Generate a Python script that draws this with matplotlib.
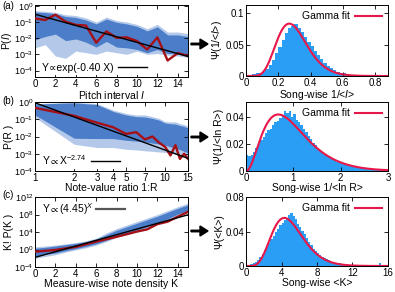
import math
import numpy as np
import matplotlib
matplotlib.use("Agg")
import matplotlib.pyplot as plt
from matplotlib.ticker import FuncFormatter, NullLocator

plt.rcParams['font.family'] = ['Liberation Sans', 'DejaVu Sans']
plt.rcParams['font.size'] = 7
plt.rcParams['mathtext.fontset'] = 'custom'
plt.rcParams['mathtext.rm'] = 'Liberation Sans'
plt.rcParams['mathtext.it'] = 'Liberation Sans:italic'
plt.rcParams['mathtext.fallback'] = 'stixsans'

# ---- panel (a): pitch interval ----
pitch_x = list(range(16))
pitch_outer_hi = [-0.30, -0.34, -0.40, -0.55, -0.60, -0.75, -1.00, -0.70, -0.91, -1.00, -1.15, -1.41, -1.15, -1.62, -1.62, -1.72]
pitch_outer_lo = [-2.60, -2.40, -3.10, -3.25, -2.80, -2.90, -3.00, -2.80, -2.90, -3.00, -2.80, -3.00, -2.95, -3.05, -3.10, -3.20]
pitch_core_hi = [-0.38, -0.42, -0.48, -0.66, -0.72, -0.88, -1.12, -0.82, -1.02, -1.12, -1.27, -1.55, -1.30, -1.80, -1.80, -1.90]
pitch_core_lo = [-2.10, -1.90, -1.75, -2.15, -2.05, -2.25, -2.55, -2.20, -2.55, -2.60, -2.70, -2.90, -2.70, -2.95, -2.95, -3.10]
pitch_mean = [-0.78, -0.88, -0.55, -0.98, -1.18, -1.22, -2.28, -1.58, -1.98, -1.95, -2.18, -2.70, -1.95, -3.38, -2.92, -3.10]
pitch_rate = 0.40
pitch_amp = 0.30

# ---- panel (b): note-value ratio ----
ratio_x = list(range(1, 16))
ratio_outer_hi = [-0.10, 0.00, -0.10, -0.47, -0.66, -0.75, -0.75, -0.85, -0.95, -1.13, -1.15, -1.15, -1.25, -1.30, -1.40]
ratio_outer_lo = [-0.90, -2.45, -2.64, -2.64, -2.74, -2.78, -2.83, -2.86, -2.90, -2.92, -2.98, -3.03, -3.08, -3.14, -3.20]
ratio_core_hi = [-0.12, -0.05, -0.15, -0.55, -0.75, -0.85, -0.87, -0.95, -1.05, -1.22, -1.26, -1.28, -1.36, -1.42, -1.50]
ratio_core_lo = [-0.75, -2.10, -2.12, -2.12, -2.22, -2.27, -2.32, -2.38, -2.44, -2.50, -2.60, -2.68, -2.76, -2.86, -2.96]
ratio_mean = [-0.34, -0.80, -1.20, -1.47, -1.85, -1.75, -2.17, -2.00, -2.36, -2.60, -3.10, -2.50, -3.30, -3.00, -3.30]
ratio_exp = -2.74
ratio_amp = 0.90

# ---- panel (c): note density ----
dens_x = list(range(16))
dens_outer_hi = [0.6, 0.8, 1.0, 1.3, 1.6, 2.0, 2.6, 3.8, 4.8, 5.6, 6.4, 7.2, 8.0, 8.9, 9.8, 10.6]
dens_outer_lo = [-2.0, -1.6, -1.2, -0.6, -0.1, 0.4, 1.0, 1.8, 2.8, 3.4, 4.1, 4.9, 5.8, 6.7, 7.8, 8.6]
dens_core_hi = [0.3, 0.5, 0.8, 1.1, 1.4, 1.8, 2.4, 3.4, 4.4, 5.2, 6.0, 6.8, 7.6, 8.5, 9.4, 10.2]
dens_core_lo = [-1.5, -1.1, -0.8, -0.3, 0.2, 0.7, 1.3, 2.1, 3.0, 3.7, 4.4, 5.2, 6.1, 7.0, 8.1, 8.9]
dens_mean = [-0.5, -0.3, -0.1, 0.25, 0.6, 1.2, 1.8, 2.35, 2.9, 3.5, 4.1, 4.6, 5.8, 6.35, 7.5, 8.6]
dens_base = 4.45
dens_amp_log = -1.8

# ---- histograms (right column) ----
hist_a_width = 0.02
hist_a = [0.001, 0.002, 0.003, 0.004, 0.005, 0.007, 0.011, 0.018, 0.026, 0.036,
          0.046, 0.058, 0.068, 0.076, 0.080, 0.083, 0.076, 0.070, 0.062, 0.054,
          0.047, 0.040, 0.033, 0.027, 0.021, 0.016, 0.012, 0.009, 0.007, 0.005,
          0.004, 0.003, 0.002, 0.0015, 0.001, 0.0008, 0.0005, 0.0004, 0.0003, 0.0002,
          0.0002, 0.0001, 0.0001, 0.0001, 0.0001]
gamma_a = (9.0, 0.0335)

hist_b_width = 0.05
hist_b = [0.012, 0.011, 0.012, 0.014, 0.017, 0.020, 0.023, 0.025, 0.028, 0.030,
          0.031, 0.034, 0.036, 0.037, 0.039, 0.041, 0.044, 0.043, 0.044, 0.040,
          0.042, 0.038, 0.036, 0.034, 0.031, 0.029, 0.026, 0.024, 0.021, 0.019,
          0.017, 0.015, 0.013, 0.012, 0.011, 0.010, 0.009, 0.008, 0.007, 0.0065,
          0.006, 0.005, 0.0045, 0.004, 0.0035, 0.003, 0.003, 0.0025, 0.0025, 0.002,
          0.002, 0.0018, 0.0016, 0.0014, 0.0013, 0.0012, 0.001, 0.001, 0.0009, 0.0008]
gamma_b = (3.2, 0.31)

hist_c_width = 0.25
hist_c = [0.000, 0.001, 0.002, 0.004, 0.005, 0.007, 0.010, 0.014, 0.018, 0.022,
          0.027, 0.031, 0.035, 0.040, 0.043, 0.047, 0.050, 0.053, 0.055, 0.059,
          0.062, 0.058, 0.054, 0.049, 0.045, 0.041, 0.037, 0.032, 0.028, 0.024,
          0.020, 0.017, 0.015, 0.013, 0.011, 0.009, 0.008, 0.007, 0.005, 0.004,
          0.004, 0.003, 0.003, 0.002, 0.002, 0.0015, 0.001, 0.001, 0.001, 0.0008,
          0.0006, 0.0005, 0.0004, 0.0003, 0.0003, 0.0002, 0.0002, 0.0002, 0.0002, 0.0002,
          0.003, 0.0002, 0.0001, 0.0001]
gamma_c = (7.0, 0.72)

BAND = '#4579c8'
MEAN = '#a50f15'
HIST = '#2a9df4'
GFIT = '#e8174a'


def gamma_curve(x, k, theta, width):
    x = np.asarray(x)
    out = np.zeros_like(x)
    m = x > 0
    out[m] = np.exp((k - 1) * np.log(x[m]) - x[m] / theta - math.lgamma(k) - k * math.log(theta))
    return out * width


def style(ax):
    ax.tick_params(direction='in', top=True, right=True, length=3, width=0.6, pad=1.2)
    for s in ax.spines.values():
        s.set_linewidth(0.7)


def band_panel(ax, x, olo, ohi, clo, chi, mean):
    ax.fill_between(x, 10 ** np.array(olo), 10 ** np.array(ohi), color=BAND, alpha=0.4, lw=0)
    ax.fill_between(x, 10 ** np.array(clo), 10 ** np.array(chi), color=BAND, alpha=0.95, lw=0)
    ax.plot(x, 10 ** np.array(mean), color=MEAN, lw=1.7, zorder=4)


def hist_panel(ax, vals, width, gparams, xmax):
    edges = np.arange(len(vals)) * width
    ax.bar(edges, vals, width=width, align='edge', color=HIST, lw=0)
    xs = np.linspace(0, xmax, 400)
    ax.plot(xs, gamma_curve(xs, gparams[0], gparams[1], width), color=GFIT, lw=1.5, label='Gamma fit')
    ax.legend(loc='upper right', frameon=False, markerfirst=False, handlelength=2.6,
              borderaxespad=0.2, handletextpad=0.5, fontsize=7.5)
    ax.xaxis.set_major_formatter(FuncFormatter(lambda v, p: '%g' % v))
    ax.yaxis.set_major_formatter(FuncFormatter(lambda v, p: '%g' % v))


fig = plt.figure(figsize=(3.95, 2.92), dpi=100)
W, H = 395.0, 292.0


def add_ax(x0, x1, top, bottom):
    return fig.add_axes([x0 / W, 1 - bottom / H, (x1 - x0) / W, (bottom - top) / H])


axa = add_ax(35, 188, 5, 77)
axb = add_ax(35, 188, 102, 171)
axc = add_ax(35, 188, 197, 267)
hxa = add_ax(246, 388, 5, 76)
hxb = add_ax(246, 388, 102, 171)
hxc = add_ax(246, 388, 197, 266)

# (a)
band_panel(axa, pitch_x, pitch_outer_lo, pitch_outer_hi, pitch_core_lo, pitch_core_hi, pitch_mean)
xx = np.linspace(0, 15, 100)
axa.plot(xx, pitch_amp * np.exp(-pitch_rate * xx), color='black', lw=1.0, zorder=5,
         label='Y\u221dexp(-0.40 X)')
axa.set_yscale('log')
axa.set_xlim(0, 15)
axa.set_ylim(10 ** -4.4, 10 ** 0.05)
axa.set_xticks(range(0, 15, 2))
axa.set_yticks([1e-4, 1e-3, 1e-2, 1e-1, 1e0])
axa.yaxis.set_minor_locator(NullLocator())
axa.set_xlabel('Pitch interval $I$', labelpad=0, fontsize=7.5)
axa.set_ylabel('P($I$)', fontsize=7.5)
axa.legend(loc='lower left', bbox_to_anchor=(0.02, 0.0), markerfirst=False, framealpha=1,
           edgecolor='none', fancybox=False, handlelength=2.8, borderpad=0.2,
           handletextpad=0.4, borderaxespad=0.2, fontsize=7.5)
style(axa)

# (b)
band_panel(axb, ratio_x, ratio_outer_lo, ratio_outer_hi, ratio_core_lo, ratio_core_hi, ratio_mean)
rr = np.linspace(1, 15, 100)
axb.plot(rr, ratio_amp * rr ** ratio_exp, color='black', lw=1.0, zorder=5,
         label='Y$\\propto$X$^{-2.74}$')
axb.set_xscale('log')
axb.set_yscale('log')
axb.set_xlim(1, 15)
axb.set_ylim(1e-4, 1e0)
axb.set_xticks([1, 2, 3, 4, 5, 7, 10, 15])
axb.xaxis.set_major_formatter(FuncFormatter(lambda v, p: '%g' % v))
axb.xaxis.set_minor_locator(NullLocator())
axb.set_yticks([1e-4, 1e-3, 1e-2, 1e-1, 1e0])
axb.yaxis.set_minor_locator(NullLocator())
axb.set_xlabel('Note-value ratio 1:R', labelpad=0, fontsize=7.5)
axb.set_ylabel('P(R )', fontsize=7.5)
axb.legend(loc='lower left', bbox_to_anchor=(0.02, 0.0), markerfirst=False, framealpha=1,
           edgecolor='none', fancybox=False, handlelength=2.8, borderpad=0.2,
           handletextpad=0.4, borderaxespad=0.2, fontsize=7.5)
style(axb)

# (c)
band_panel(axc, dens_x, dens_outer_lo, dens_outer_hi, dens_core_lo, dens_core_hi, dens_mean)
kk = np.linspace(0, 15, 100)
axc.plot(kk, 10 ** dens_amp_log * dens_base ** kk, color='black', lw=1.0, zorder=5)
axc.plot([], [], color='#555555', lw=1.6, label='Y$\\propto$(4.45)$^{X}$')
axc.set_yscale('log')
axc.set_xlim(0, 15)
axc.set_ylim(1e-4, 1e12)
axc.set_xticks(range(0, 15, 2))
axc.set_yticks([1e-4, 1e0, 1e4, 1e8, 1e12])
axc.yaxis.set_minor_locator(NullLocator())
axc.set_xlabel('Measure-wise note density K', labelpad=0, fontsize=7.5)
axc.set_ylabel('K! P(K )', fontsize=7.5)
axc.legend(loc='upper left', bbox_to_anchor=(0.02, 1.0), markerfirst=False, frameon=False,
           handlelength=2.8, borderpad=0.2, handletextpad=0.2, borderaxespad=0.2, fontsize=7.5)
style(axc)

# left y labels sit at a fixed distance from the figure edge
for ax in (axa, axb, axc):
    ax.yaxis.set_label_coords(-21 / 153.0, 0.5)
    ax.tick_params(axis='y', labelsize=6.5)

# histograms
hist_panel(hxa, hist_a, hist_a_width, gamma_a, 0.88)
hxa.set_xlim(0, 0.88)
hxa.set_ylim(0, 0.113)
hxa.set_xticks([0, 0.2, 0.4, 0.6, 0.8])
hxa.set_yticks([0, 0.05, 0.1])
hxa.set_xlabel('Song-wise 1/<$I$>', labelpad=0, fontsize=7.5)
hxa.set_ylabel('\u03a8(1/<$I$>)', labelpad=1, fontsize=7.5)
style(hxa)

hist_panel(hxb, hist_b, hist_b_width, gamma_b, 3)
hxb.set_xlim(0, 3)
hxb.set_ylim(0, 0.051)
hxb.set_xticks([0, 1, 2, 3])
hxb.set_yticks([0, 0.02, 0.04])
hxb.set_xlabel('Song-wise 1/<ln R>', labelpad=0, fontsize=7.5)
hxb.set_ylabel('\u03a8(1/<ln R>)', labelpad=1, fontsize=7.5)
style(hxb)

hist_panel(hxc, hist_c, hist_c_width, gamma_c, 16)
hxc.set_xlim(0, 16)
hxc.set_ylim(0, 0.08)
hxc.set_xticks([0, 4, 8, 12, 16])
hxc.set_yticks([0, 0.04, 0.08])
hxc.set_xlabel('Song-wise <K>', labelpad=0, fontsize=7.5)
hxc.set_ylabel('\u03a8(<K>)', labelpad=1, fontsize=7.5)
style(hxc)

# panel letters
for lab, ypx in [('(a)', 6), ('(b)', 101), ('(c)', 195)]:
    fig.text(2 / W, 1 - ypx / H, lab, ha='left', va='center', fontsize=7)

# arrows between columns
for ypx in [44, 137, 231]:
    fig.patches.append(matplotlib.patches.FancyArrow(
        191 / W, 1 - ypx / H, 9 / W, 0, width=1.5 / H, head_width=10 / H,
        head_length=8 / W, length_includes_head=False, color='black',
        transform=fig.transFigure, figure=fig))

fig.savefig('out.png', dpi=100)
